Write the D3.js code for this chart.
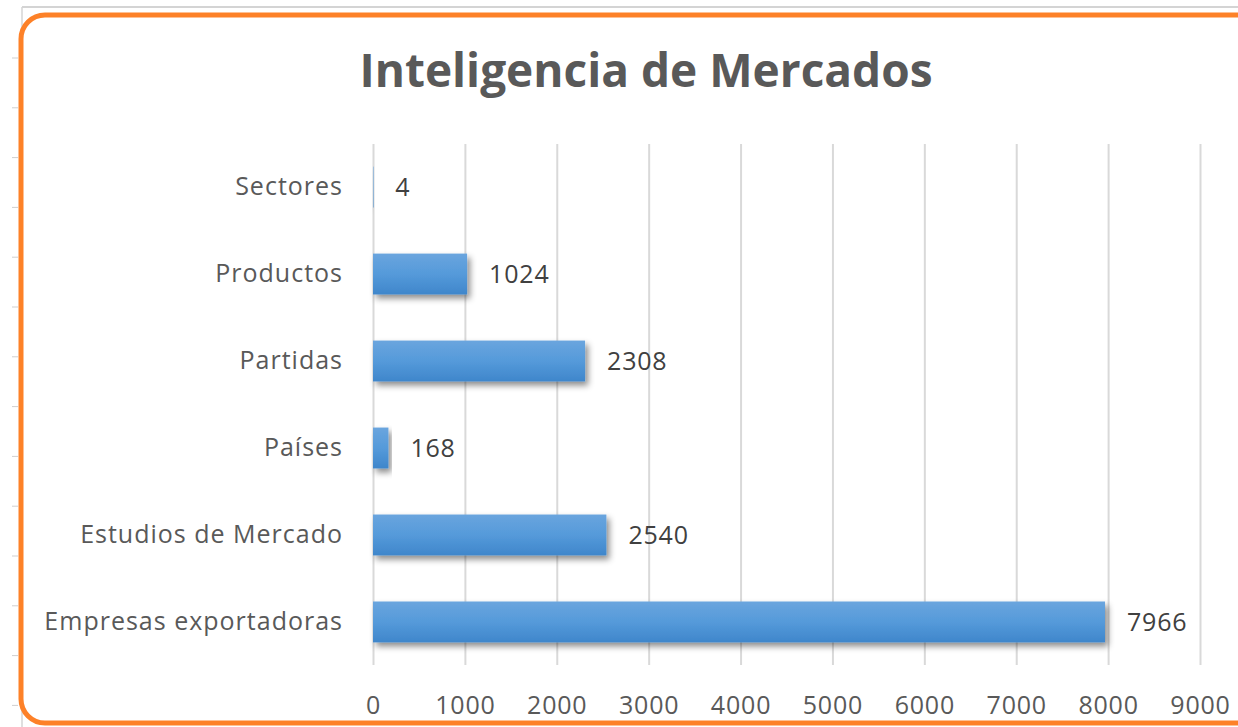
<!DOCTYPE html>
<html>
<head>
<meta charset="utf-8">
<script src="https://cdn.jsdelivr.net/npm/d3@7"></script>
<style>
  html, body { margin: 0; padding: 0; background: #fff; }
  svg { display: block; font-family: "Open Sans", sans-serif; }
</style>
</head>
<body>
<script>
// ================== DATA ===========================
const categories = [
        "Sectores",
        "Productos",
        "Partidas",
        "Países",
        "Estudios de Mercado",
        "Empresas exportadoras"
]

const values = [
        4,
        1024,
        2308,
        168,
        2540,
        7966
]

const tickValues = [0, 1000, 2000, 3000, 4000, 5000, 6000, 7000, 8000, 9000]

const chartTitle = "Inteligencia de Mercados"


// ================== LAYOUT ===========================
const width = 1238;
const height = 727;

const svg = d3.select("body")
              .append("svg")
              .attr("width", width)
              .attr("height", height);

// plot area
margin = {left: 373, right: 38, top: 144, bottom: 62};
const plotW = width - margin.left - margin.right;   // 0..9000
const plotH = height - margin.top - margin.bottom;

// spreadsheet cell lines behind the chart
svg.append("line")
   .attr("x1", 22).attr("x2", width)
   .attr("y1", 7).attr("y2", 7)
   .attr("stroke", "#d4d4d4").attr("stroke-width", 2);
svg.append("line")
   .attr("x1", 22).attr("x2", 22)
   .attr("y1", 7).attr("y2", height)
   .attr("stroke", "#d4d4d4").attr("stroke-width", 1.5);
svg.selectAll(".cell-tick")
   .data(d3.range(14)).enter()
   .append("line")
   .attr("class", "cell-tick")
   .attr("x1", 12).attr("x2", 18)
   .attr("y1", d => 58 + d * 49.8).attr("y2", d => 58 + d * 49.8)
   .attr("stroke", "#cfcfcf").attr("stroke-width", 1);

// chart frame (orange, rounded, cut at right edge)
svg.append("rect")
   .attr("x", 21).attr("y", 15)
   .attr("width", width + 20).attr("height", 708)
   .attr("rx", 24).attr("ry", 24)
   .attr("fill", "#fff")
   .attr("stroke", "#fd8128")
   .attr("stroke-width", 5);

// title
svg.append("text")
   .attr("x", 646)
   .attr("y", 87)
   .attr("text-anchor", "middle")
   .attr("font-size", 46)
   .attr("font-weight", "bold")
   .attr("fill", "#595959")
   .text(chartTitle);

// defs: gradient + shadow
const defs = svg.append("defs");
const grad = defs.append("linearGradient")
                 .attr("id", "barGrad")
                 .attr("x1", 0).attr("y1", 0).attr("x2", 0).attr("y2", 1);
grad.append("stop").attr("offset", "0%").attr("stop-color", "#6aa5de");
grad.append("stop").attr("offset", "50%").attr("stop-color", "#559ada");
grad.append("stop").attr("offset", "100%").attr("stop-color", "#3f86cb");

const shadow = defs.append("filter")
                   .attr("id", "barShadow")
                   .attr("x", "-10%").attr("y", "-30%")
                   .attr("width", "130%").attr("height", "180%");
shadow.append("feDropShadow")
      .attr("dx", 3).attr("dy", 4)
      .attr("stdDeviation", 3)
      .attr("flood-color", "#000")
      .attr("flood-opacity", 0.45);

let group = svg.append("g")
               .attr("class", "chart-group")
               .attr("transform", `translate(${margin.left}, ${margin.top})`);


// ============ scales =============================
const xScale = d3.scaleLinear().domain([0, 9000]).range([0, plotW]);
const yScale = d3.scaleBand().domain(categories).range([0, plotH]).paddingInner(0.53).paddingOuter(0.26);


// ============ grid + x axis =============================
const xGrid = d3.axisBottom(xScale).tickValues(tickValues).tickSize(plotH).tickFormat("");
group.append("g")
     .attr("class", "grid")
     .call(xGrid)
     .call(g => g.select(".domain").remove())
     .call(g => g.selectAll("line").attr("stroke", "#d9d9d9").attr("stroke-width", 2));

const xAxis = d3.axisBottom(xScale).tickValues(tickValues).tickSize(0).tickPadding(0).tickFormat(d3.format("d"));
group.append("g")
     .attr("transform", `translate(0, ${plotH + 40})`)
     .call(xAxis)
     .call(g => g.select(".domain").remove())
     .call(g => g.selectAll("text")
                 .attr("dy", "0.35em")
                 .attr("font-size", 25)
                 .attr("letter-spacing", 0.8)
                 .attr("font-family", "Open Sans, sans-serif")
                 .attr("fill", "#595959"));


// ============ y axis labels =============================
const yAxis = d3.axisLeft(yScale).tickSize(0).tickPadding(30);
group.append("g")
     .call(yAxis)
     .call(g => g.select(".domain").remove())
     .call(g => g.selectAll("text")
                 .attr("font-size", 25)
                 .attr("letter-spacing", 1)
                 .attr("font-family", "Open Sans, sans-serif")
                 .attr("fill", "#595959"));


// ============ bars =================================
group.selectAll("rect.bar")
     .data(values).enter()
     .append("rect")
     .attr("class", "bar")
     .attr("fill", "url(#barGrad)")
     .attr("filter", "url(#barShadow)")
     .attr("x", 0)
     .attr("y", (d, i) => yScale(categories[i]))
     .attr("width", d => Math.max(xScale(d), 0.5))
     .attr("height", yScale.bandwidth());

// value labels
group.selectAll("text.value")
     .data(values).enter()
     .append("text")
     .attr("class", "value")
     .attr("x", d => xScale(d) + 22)
     .attr("y", (d, i) => yScale(categories[i]) + yScale.bandwidth() / 2)
     .attr("dy", "0.35em")
     .attr("font-size", 25)
     .attr("letter-spacing", 0.8)
     .attr("fill", "#404040")
     .text(d => d);
</script>
</body>
</html>
